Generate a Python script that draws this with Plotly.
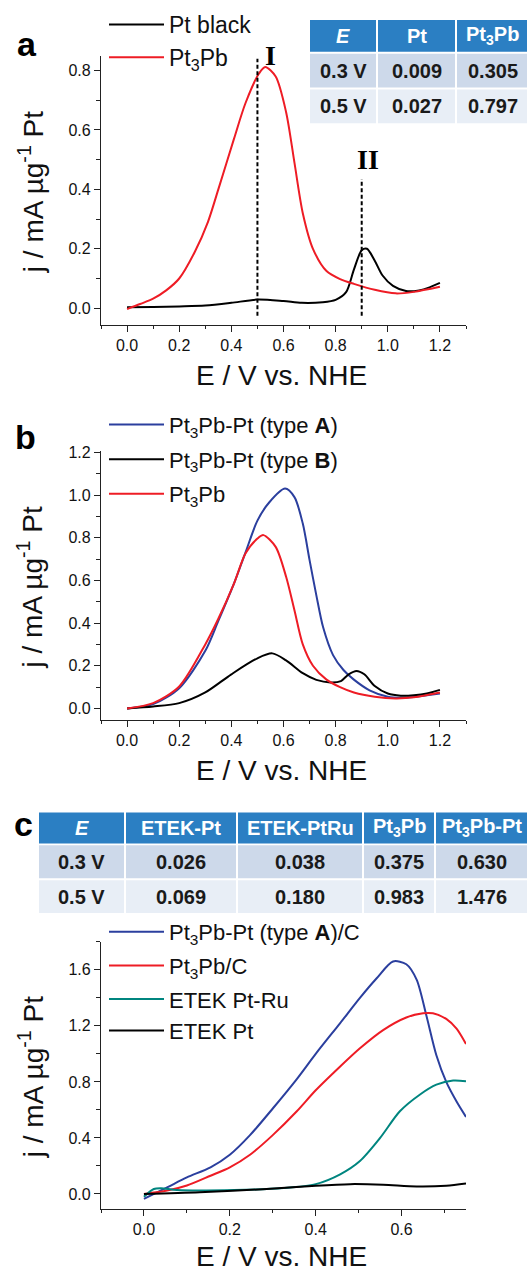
import plotly.graph_objects as go

W, H = 527, 1273

# ---------------- data ----------------
# panel a
a_x_ptblack = [0, 0.1, 0.2, 0.3, 0.4, 0.5, 0.6, 0.67, 0.75, 0.8, 0.84, 0.87, 0.9, 0.92, 0.95, 0.98, 1.02, 1.07, 1.12, 1.16, 1.2]
a_y_ptblack = [0.003, 0.004, 0.006, 0.009, 0.018, 0.029, 0.024, 0.018, 0.02, 0.028, 0.054, 0.13, 0.195, 0.2, 0.16, 0.11, 0.075, 0.058, 0.06, 0.07, 0.085]
a_x_pt3pb = [0, 0.05, 0.1, 0.15, 0.2, 0.26, 0.31, 0.35, 0.41, 0.454, 0.506, 0.53, 0.57, 0.61, 0.642, 0.674, 0.713, 0.765, 0.817, 0.87, 0.95, 1.03, 1.1, 1.2]
a_y_pt3pb = [-0.003, 0.014, 0.032, 0.06, 0.1, 0.19, 0.29, 0.4, 0.57, 0.69, 0.79, 0.812, 0.78, 0.66, 0.49, 0.32, 0.2, 0.125, 0.098, 0.082, 0.062, 0.05, 0.055, 0.072]
dash_I_x = [0.5, 0.5]
dash_I_y = [-0.025, 0.84]
dash_II_x = [0.9, 0.9]
dash_II_y = [-0.025, 0.435]

# panel b
b_x_typeA = [0, 0.1, 0.2, 0.3, 0.35, 0.41, 0.454, 0.5, 0.545, 0.606, 0.642, 0.674, 0.7, 0.726, 0.752, 0.79, 0.83, 0.87, 0.93, 1.0, 1.05, 1.1, 1.2]
b_y_typeA = [0, 0.02, 0.095, 0.27, 0.41, 0.585, 0.73, 0.88, 0.965, 1.03, 0.99, 0.866, 0.695, 0.53, 0.38, 0.25, 0.18, 0.135, 0.085, 0.055, 0.05, 0.054, 0.07]
b_x_typeB = [0, 0.1, 0.2, 0.3, 0.4, 0.5, 0.557, 0.61, 0.674, 0.726, 0.78, 0.82, 0.85, 0.88, 0.91, 0.95, 1.0, 1.05, 1.1, 1.15, 1.2]
b_y_typeB = [0, 0.009, 0.025, 0.075, 0.16, 0.235, 0.258, 0.225, 0.165, 0.134, 0.122, 0.128, 0.16, 0.176, 0.16, 0.105, 0.07, 0.06, 0.062, 0.07, 0.087]
b_x_pt3pb = [0, 0.1, 0.2, 0.3, 0.35, 0.41, 0.454, 0.5, 0.523, 0.57, 0.61, 0.642, 0.674, 0.713, 0.765, 0.817, 0.87, 0.95, 1.03, 1.1, 1.2]
b_y_pt3pb = [0, 0.025, 0.103, 0.3, 0.42, 0.585, 0.726, 0.796, 0.812, 0.757, 0.617, 0.46, 0.3, 0.2, 0.135, 0.1, 0.075, 0.055, 0.047, 0.052, 0.075]

# panel c
c_x_typeA = [0, 0.054, 0.1, 0.155, 0.2, 0.247, 0.3, 0.356, 0.4, 0.457, 0.503, 0.542, 0.58, 0.611, 0.635, 0.658, 0.681, 0.704, 0.728, 0.75]
c_y_typeA = [-0.035, 0.047, 0.118, 0.19, 0.28, 0.42, 0.61, 0.82, 1.0, 1.22, 1.4, 1.54, 1.66, 1.64, 1.53, 1.27, 0.99, 0.8, 0.66, 0.55]
c_x_pt3pb = [0, 0.054, 0.1, 0.155, 0.2, 0.247, 0.3, 0.356, 0.4, 0.457, 0.503, 0.557, 0.611, 0.65, 0.673, 0.704, 0.728, 0.75]
c_y_pt3pb = [0, 0.024, 0.06, 0.13, 0.19, 0.28, 0.42, 0.59, 0.74, 0.91, 1.04, 1.17, 1.26, 1.29, 1.29, 1.25, 1.18, 1.07]
c_x_ptru = [0, 0.023, 0.04, 0.077, 0.21, 0.325, 0.4, 0.457, 0.503, 0.55, 0.596, 0.643, 0.681, 0.72, 0.75]
c_y_ptru = [-0.02, 0.035, 0.04, 0.028, 0.028, 0.042, 0.07, 0.14, 0.235, 0.4, 0.59, 0.71, 0.78, 0.81, 0.805]
c_x_pt = [0, 0.13, 0.286, 0.4, 0.48, 0.557, 0.635, 0.704, 0.75]
c_y_pt = [0.0, 0.012, 0.035, 0.059, 0.07, 0.066, 0.054, 0.059, 0.075]

# tables
tab_a_header = ["<i>E</i>", "Pt", "Pt<sub>3</sub>Pb"]
tab_a_rows = [["0.3 V", "0.009", "0.305"], ["0.5 V", "0.027", "0.797"]]
tab_c_header = ["<i>E</i>", "ETEK-Pt", "ETEK-PtRu", "Pt<sub>3</sub>Pb", "Pt<sub>3</sub>Pb-Pt"]
tab_c_rows = [["0.3 V", "0.026", "0.038", "0.375", "0.630"],
              ["0.5 V", "0.069", "0.180", "0.983", "1.476"]]

# axis titles
x_title = "E / V vs. NHE"
y_title = "j / mA µg<sup>-1</sup> Pt"

# ---------------- layout helpers ----------------
def px(x):
    return x / W

def py(y):
    return 1 - y / H

FONT = "Arial, Liberation Sans, sans-serif"
BLUE = "#2b3f9e"
RED = "#ee1c25"
TEAL = "#00857f"
BLACK = "#000000"
HDR = "#2b7fc3"
ROW1 = "#cdd9ea"
ROW2 = "#e8eef6"

fig = go.Figure()

def line(x, y, name, color, xa, ya, leg, grp, show=True, dash="solid", width=2):
    fig.add_trace(go.Scatter(
        x=x, y=y, name=name, mode="lines",
        line=dict(color=color, width=width, shape="spline", smoothing=0.8, dash=dash),
        xaxis=xa, yaxis=ya, legend=leg, legendgroup=grp, showlegend=show,
        hoverinfo="skip"))

# panel a
line(a_x_ptblack, a_y_ptblack, "Pt black", BLACK, "x", "y", "legend", "a1")
line(a_x_pt3pb, a_y_pt3pb, "Pt<sub>3</sub>Pb", RED, "x", "y", "legend", "a2")
fig.add_trace(go.Scatter(x=dash_I_x, y=dash_I_y, mode="lines", showlegend=False,
                         line=dict(color=BLACK, width=2, dash="4px,2.5px"), xaxis="x", yaxis="y", hoverinfo="skip"))
fig.add_trace(go.Scatter(x=dash_II_x, y=dash_II_y, mode="lines", showlegend=False,
                         line=dict(color=BLACK, width=2, dash="4px,2.5px"), xaxis="x", yaxis="y", hoverinfo="skip"))

# panel b
line(b_x_typeA, b_y_typeA, "Pt<sub>3</sub>Pb-Pt (type <b>A</b>)", BLUE, "x2", "y2", "legend2", "b1")
line(b_x_typeB, b_y_typeB, "Pt<sub>3</sub>Pb-Pt (type <b>B</b>)", BLACK, "x2", "y2", "legend2", "b2")
line(b_x_pt3pb, b_y_pt3pb, "Pt<sub>3</sub>Pb", RED, "x2", "y2", "legend2", "b3")

# panel c
line(c_x_typeA, c_y_typeA, "Pt<sub>3</sub>Pb-Pt (type <b>A</b>)/C", BLUE, "x3", "y3", "legend3", "c1")
line(c_x_pt3pb, c_y_pt3pb, "Pt<sub>3</sub>Pb/C", RED, "x3", "y3", "legend3", "c2")
line(c_x_ptru, c_y_ptru, "ETEK Pt-Ru", TEAL, "x3", "y3", "legend3", "c3")
line(c_x_pt, c_y_pt, "ETEK Pt", BLACK, "x3", "y3", "legend3", "c3")

XL, XR = 101, 466
XDOM = [px(XL), px(XR)]

def xaxis(rng, anchor, dtick=0.2, minor=0.1):
    return dict(domain=XDOM, range=rng, anchor=anchor, showline=True, linecolor="#222", linewidth=1.3,
                ticks="outside", ticklen=6, tickwidth=1.3, tickcolor="#222",
                tick0=0, dtick=dtick, tickformat=".1f",
                minor=dict(ticks="outside", ticklen=3.5, tickwidth=1.2, tickcolor="#222", dtick=minor, tick0=0),
                showgrid=False, zeroline=False, mirror=False,
                tickfont=dict(size=16, family=FONT, color="#111"))

def yaxis(rng, dom, anchor, dtick, minor):
    return dict(domain=dom, range=rng, anchor=anchor, showline=True, linecolor="#222", linewidth=1.3,
                ticks="outside", ticklen=6, tickwidth=1.3, tickcolor="#222",
                tick0=0, dtick=dtick, tickformat=".1f",
                minor=dict(ticks="outside", ticklen=3.5, tickwidth=1.2, tickcolor="#222", dtick=minor, tick0=0),
                showgrid=False, zeroline=False, mirror=False,
                tickfont=dict(size=16, family=FONT, color="#111"))

def legend(x, y, size, gap):
    return dict(x=px(x), y=py(y), xanchor="left", yanchor="top",
                font=dict(size=size, family=FONT, color="#111"),
                bgcolor="rgba(0,0,0,0)", borderwidth=0, itemwidth=55,
                tracegroupgap=gap, traceorder="grouped")

shapes = []
annotations = []

def table(header, rows, col_edges, row_edges, size):
    for r in range(len(rows) + 1):
        fill = HDR if r == 0 else (ROW1 if r == 1 else ROW2)
        texts = header if r == 0 else rows[r - 1]
        color = "white" if r == 0 else "#1a1a1a"
        for c in range(len(col_edges) - 1):
            x0, x1 = col_edges[c], col_edges[c + 1]
            y0, y1 = row_edges[r], row_edges[r + 1]
            shapes.append(dict(type="rect", xref="paper", yref="paper",
                               x0=px(x0 + 1), x1=px(x1 - 1), y0=py(y0 + 1), y1=py(y1 - 1),
                               fillcolor=fill, line=dict(width=0), layer="above"))
            annotations.append(dict(xref="paper", yref="paper", x=px((x0 + x1) / 2), y=py((y0 + y1) / 2),
                                    text="<b>" + texts[c] + "</b>", showarrow=False,
                                    font=dict(size=size, family=FONT, color=color),
                                    xanchor="center", yanchor="middle"))

table(tab_a_header, tab_a_rows, [309, 377, 456, 529], [12, 46, 82, 118], 20)
table(tab_c_header, tab_c_rows, [38, 125, 237, 363, 435, 529], [809, 842, 877, 912], 20)

# panel labels
for lbl, xx, yy in [("a", 27, 37), ("b", 25, 432), ("c", 23, 822)]:
    annotations.append(dict(xref="paper", yref="paper", x=px(xx), y=py(yy), text="<b>" + lbl + "</b>",
                            showarrow=False, font=dict(size=34, family=FONT, color="black"),
                            xanchor="center", yanchor="middle"))

# axis titles (as annotations for exact placement)
for (ytop, ybot, xt_y) in [(49, 319.3, 371), (446.7, 716.7, 768), (940, 1208.3, 1256)]:
    annotations.append(dict(xref="paper", yref="paper", x=px(281), y=py(xt_y), text=x_title,
                            showarrow=False, font=dict(size=28, family=FONT, color="#111"),
                            xanchor="center", yanchor="middle"))
    annotations.append(dict(xref="paper", yref="paper", x=px(31), y=py((ytop + ybot) / 2 + 2), text=y_title,
                            showarrow=False, textangle=-90, font=dict(size=28, family=FONT, color="#111"),
                            xanchor="center", yanchor="middle"))

# peak markers
annotations.append(dict(xref="x", yref="y", x=0.55, y=0.85, text="<b>I</b>", showarrow=False,
                        font=dict(size=28, family="Liberation Serif, Times New Roman, serif", color="black")))
annotations.append(dict(xref="x", yref="y", x=0.923, y=0.5, text="<b>II</b>", showarrow=False,
                        font=dict(size=28, family="Liberation Serif, Times New Roman, serif", color="black")))

fig.update_layout(
    width=W, height=H, margin=dict(l=0, r=0, t=0, b=0),
    paper_bgcolor="white", plot_bgcolor="white",
    xaxis=xaxis([-0.1, 1.3], "y"),
    yaxis=yaxis([-0.055, 0.85], [py(319.3), py(49)], "x", 0.2, 0.1),
    xaxis2=xaxis([-0.1, 1.3], "y2"),
    yaxis2=yaxis([-0.053, 1.205], [py(716.7), py(446.7)], "x2", 0.2, 0.1),
    xaxis3=xaxis([-0.1, 0.75], "y3"),
    yaxis3=yaxis([-0.105, 1.8], [py(1208.3), py(940)], "x3", 0.4, 0.2),
    legend=legend(104, -4, 23, 0),
    legend2=legend(104, 399, 22, 3),
    legend3=legend(104, 909, 22, 2),
    shapes=shapes, annotations=annotations,
)

fig.write_html("out.html", config={"displayModeBar": False},
               post_script="document.body.style.margin='0px';document.body.style.overflow='hidden';")
